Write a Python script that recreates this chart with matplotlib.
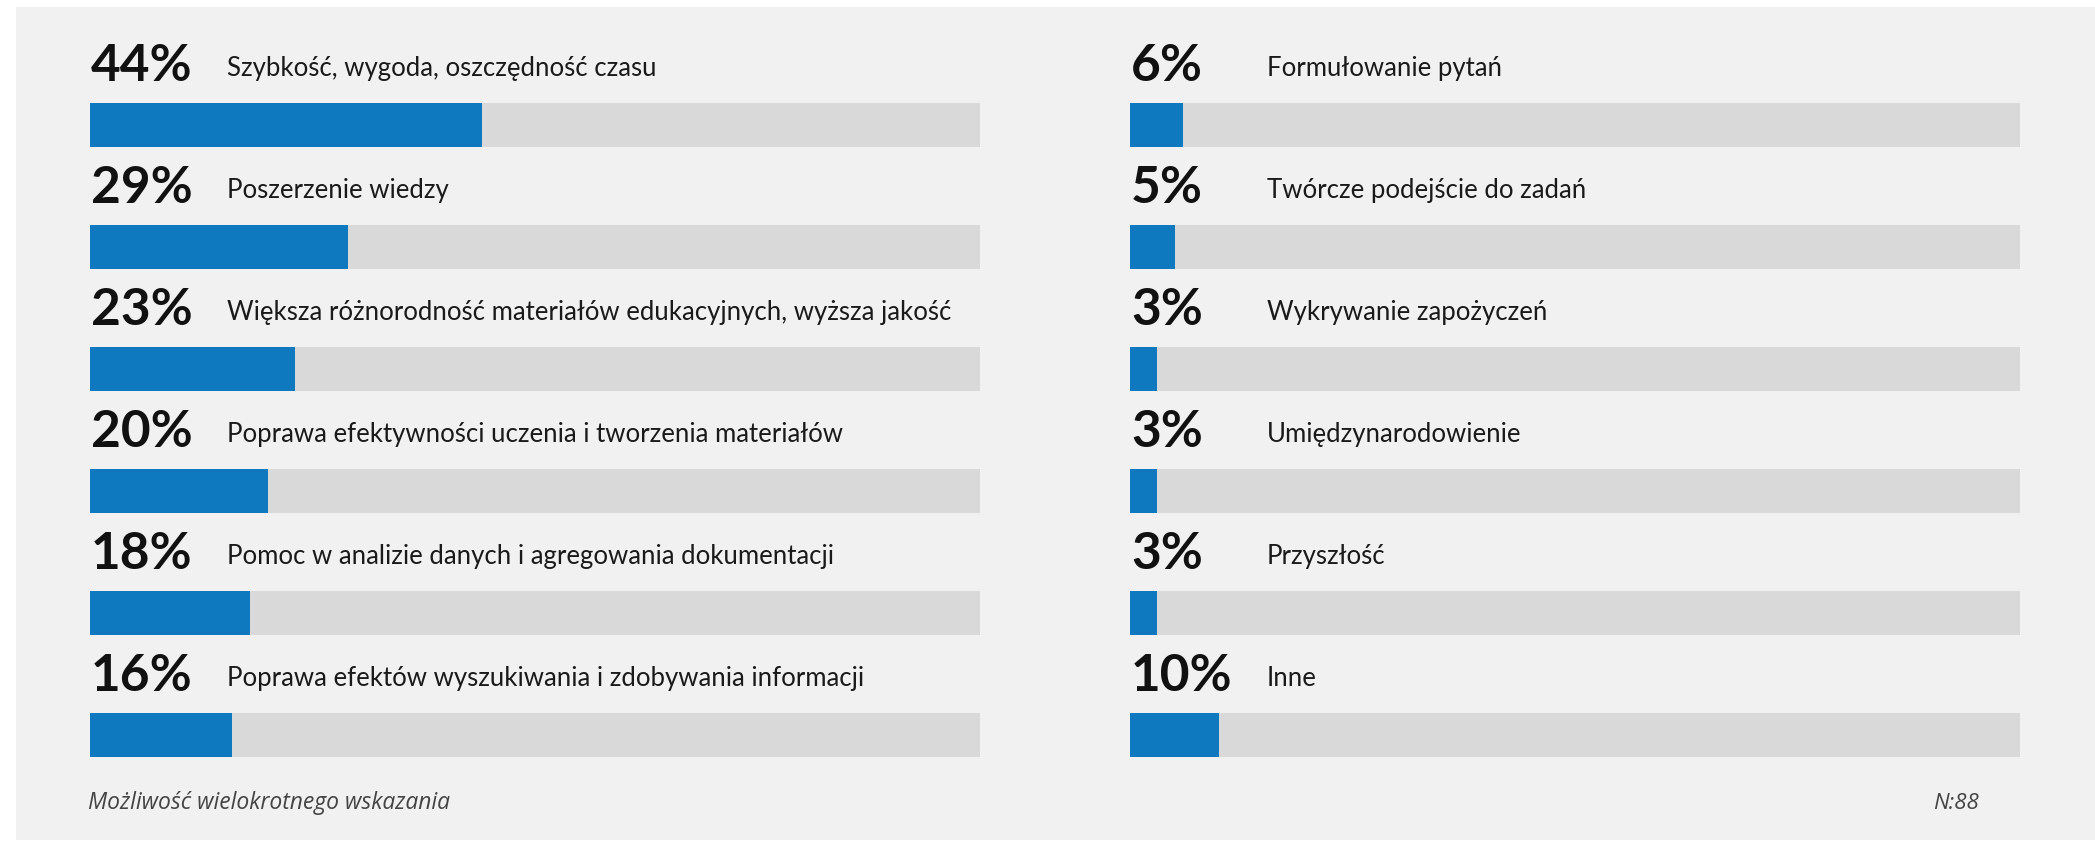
import numpy as np
import matplotlib
matplotlib.use("Agg")
import matplotlib.pyplot as plt
from matplotlib.patches import Rectangle

# dane
left_labels = [
    "Szybkość, wygoda, oszczędność czasu",
    "Poszerzenie wiedzy",
    "Większa różnorodność materiałów edukacyjnych, wyższa jakość",
    "Poprawa efektywności uczenia i tworzenia materiałów",
    "Pomoc w analizie danych i agregowania dokumentacji",
    "Poprawa efektów wyszukiwania i zdobywania informacji",
]
left_values = [44, 29, 23, 20, 18, 16]
right_labels = [
    "Formułowanie pytań",
    "Twórcze podejście do zadań",
    "Wykrywanie zapożyczeń",
    "Umiędzynarodowienie",
    "Przyszłość",
    "Inne",
]
right_values = [6, 5, 3, 3, 3, 10]
note_text = "Możliwość wielokrotnego wskazania"
n_text = "N:88"

# stile
W, H = 2095, 842
BLUE = "#0f79c0"
GREY = "#d9d9d9"
PANEL = "#f1f1f1"
plt.rcParams['font.family'] = ['Lato', 'DejaVu Sans']

fig = plt.figure(figsize=(W / 100, H / 100), dpi=100)
fig.patch.set_facecolor("white")
fig.add_artist(Rectangle((16 / W, 2 / H), 1 - 16 / W, 1 - 9 / H,
                         transform=fig.transFigure, facecolor=PANEL,
                         edgecolor="none", zorder=0))

# riga r ha centro a 125 + 122*r pixel dall'alto
def row_ylim():
    return ((H - 125) / 122, -125 / 122)

def draw_column(x_px, labels, values):
    ax = fig.add_axes([x_px / W, 0, 890 / W, 1])
    ax.set_xlim(0, 100)
    ax.set_ylim(*row_ylim())
    ax.axis("off")
    rows = np.arange(len(values))
    bh = 44 / 122
    ax.barh(rows, [100] * len(values), height=bh, color=GREY, zorder=1)
    ax.barh(rows, values, height=bh, color=BLUE, zorder=2)
    for r, v, lab in zip(rows, values, labels):
        ax.annotate(f"{v}%", xy=(0, r), xytext=(1, 44), textcoords="offset pixels",
                    fontsize=37, fontweight="bold", color="#111111",
                    ha="left", va="baseline", annotation_clip=False)
        ax.annotate(lab, xy=(0, r), xytext=(137, 49), textcoords="offset pixels",
                    fontsize=18.5, color="#1a1a1a",
                    ha="left", va="baseline", annotation_clip=False)
    return ax

draw_column(90, left_labels, left_values)
draw_column(1130, right_labels, right_values)

fig.text(88 / W, 1 - 809 / H, note_text, fontsize=16.5, style="italic",
         family=["Open Sans", "DejaVu Sans"],
         color="#444444", ha="left", va="baseline")
fig.text(1979 / W, 1 - 809 / H, n_text, fontsize=16, style="italic",
         family=["Open Sans", "DejaVu Sans"],
         color="#444444", ha="right", va="baseline")

fig.savefig("out.png", dpi=100, facecolor=fig.get_facecolor())
